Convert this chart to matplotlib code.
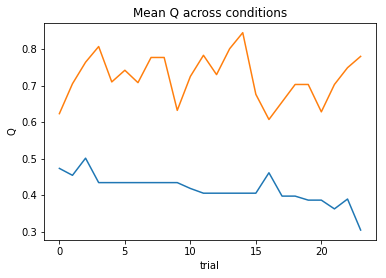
import numpy as np
import matplotlib
matplotlib.use("Agg")
import matplotlib.pyplot as plt

# Mean Q per trial
trial = np.arange(24)
q_low = [0.474, 0.455, 0.502, 0.435, 0.435, 0.435, 0.435, 0.435, 0.435, 0.435,
         0.419, 0.406, 0.406, 0.406, 0.406, 0.406, 0.462, 0.398, 0.398, 0.387,
         0.387, 0.363, 0.390, 0.305]
q_high = [0.624, 0.706, 0.765, 0.808, 0.711, 0.743, 0.709, 0.778, 0.778, 0.633,
          0.726, 0.784, 0.731, 0.802, 0.846, 0.677, 0.608, 0.656, 0.704, 0.704,
          0.629, 0.704, 0.750, 0.781]

fig = plt.figure(figsize=(386 / 72, 278 / 72), dpi=72)
ax = fig.add_axes([0.1148, 0.137, 0.8585, 0.781])
ax.plot(trial, q_low)
ax.plot(trial, q_high)
ax.set_title("Mean Q across conditions")
ax.set_xlabel("trial")
ax.set_ylabel("Q")

fig.savefig("out.png", dpi=72)
